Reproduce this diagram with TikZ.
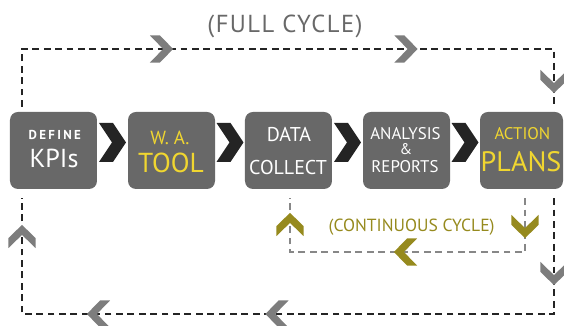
\documentclass[tikz,border=0pt]{standalone}
\usepackage{fontspec}
\setmainfont{PT Sans}
\newfontfamily\widefont[LetterSpace=18]{PT Sans}
\newfontfamily\loosefont[LetterSpace=6]{PT Sans}
\usetikzlibrary{calc}

\definecolor{boxgray}{RGB}{104,104,104}
\definecolor{tagyellow}{RGB}{240,214,48}
\definecolor{stepblack}{RGB}{36,36,36}
\definecolor{loopgray}{RGB}{125,125,125}
\definecolor{loopolive}{RGB}{150,138,30}
\definecolor{dashgray}{RGB}{135,135,135}

\newcommand{\fsz}[1]{\fontsize{#1}{#1}\selectfont}

\begin{document}
\begin{tikzpicture}[
    stagebox/.style={fill=boxgray, rounded corners=0.2cm, minimum width=2.175cm,
                     minimum height=1.925cm, inner sep=0pt},
    whitetext/.style={text=white, anchor=base, inner sep=0pt},
    yellowtext/.style={text=tagyellow, anchor=base, inner sep=0pt},
    fullline/.style={draw=stepblack, line width=1.4pt, dash pattern=on 0.17cm off 0.115cm},
    shortline/.style={draw=dashgray, line width=1.1pt, dash pattern=on 0.17cm off 0.115cm},
    stepchev/.pic={\fill[stepblack] (-0.3375,0.4875) -- (0.0125,0.4875) -- (0.3375,0)
                   -- (0.0125,-0.4875) -- (-0.3375,-0.4875) -- (-0.0125,0) -- cycle;},
    loopchev/.pic={\fill (-0.29,0.34) -- (-0.04,0.34) -- (0.29,0)
                   -- (-0.04,-0.34) -- (-0.29,-0.34) -- (0.04,0) -- cycle;},
  ]
  \useasboundingbox (0,0) rectangle (14.1,8.15);

  % Drawing the five stage boxes
  \node[stagebox] (kpis) at (1.3375,4.3875) {};
  \node[stagebox] (tool) at (4.2875,4.3875) {};
  \node[stagebox] (collect) at (7.2125,4.3875) {};
  \node[stagebox] (reports) at (10.1625,4.3875) {};
  \node[stagebox, minimum width=2.075cm] (plans) at (13.0375,4.3875) {};

  % Stage texts
  \node[whitetext, font=\widefont\bfseries\fsz{9.2}] (kpisA) at (1.37,4.65) {DEFINE};
  \node[whitetext, font=\fsz{18.5}] (kpisB) at (1.35,3.95) {KPIs};
  \node[yellowtext, font=\fsz{13.5}] (toolA) at (4.25,4.525) {W. A.};
  \node[yellowtext, font=\fsz{19.5}] (toolB) at (4.275,3.825) {TOOL};
  \node[whitetext, font=\fsz{14.2}] (collectA) at (7.225,4.6) {DATA};
  \node[whitetext, font=\fsz{14.2}] (collectB) at (7.2,3.775) {COLLECT};
  \node[whitetext, font=\fsz{12}] (reportsA) at (10.1375,4.67) {ANALYSIS};
  \node[whitetext, font=\fsz{11}] (reportsB) at (10.15,4.29) {\&};
  \node[whitetext, font=\fsz{12}] (reportsC) at (10.125,3.83) {REPORTS};
  \node[yellowtext, font=\fsz{12}] (plansA) at (13.06,4.65) {ACTION};
  \node[yellowtext, font=\fsz{20}] (plansB) at (13.025,3.86) {PLANS};

  % Black steps between the boxes
  \foreach \a/\b in {kpis/tool, tool/collect, collect/reports, reports/plans}
    \pic at ($(\a.east)!0.5!(\b.west)+(0,0.2)$) {stepchev};

  % Full cycle, top and bottom halves
  \coordinate (fullA) at ([shift={(0.3,0.125)}]kpis.north west);
  \coordinate (fullB) at ([shift={(-0.225,0.125)}]plans.north east);
  \coordinate (fullC) at ([shift={(-0.225,-0.225)}]plans.south east);
  \coordinate (fullD) at ([shift={(0.3,-0.225)}]kpis.south west);
  \coordinate (fulltop) at (0,6.925);
  \coordinate (fullbottom) at (0,0.3);
  \draw[fullline] (fullA) -- (fullA |- fulltop) -- (fullB |- fulltop) -- (fullB);
  \draw[fullline] (fullC) -- (fullC |- fullbottom) -- (fullD |- fullbottom) -- (fullD);

  % Continuous cycle, plans back to collect
  \coordinate (loopA) at ([shift={(0.0875,-0.225)}]plans.south);
  \coordinate (loopB) at ([shift={(0.0375,-0.225)}]collect.south);
  \coordinate (looplow) at (0,1.85);
  \draw[shortline] (loopA) -- (loopA |- looplow) -- (loopB |- looplow) -- (loopB);

  % Gray marks on the full cycle
  \pic[loopgray] at (4.0375,6.925) {loopchev};
  \pic[loopgray] at (10.15,6.925) {loopchev};
  \pic[loopgray, rotate=-90] at (13.85,6.1125) {loopchev};
  \pic[loopgray, rotate=-90] at (13.85,1.3125) {loopchev};
  \pic[loopgray, rotate=180] at (6.925,0.3) {loopchev};
  \pic[loopgray, rotate=180] at (2.4625,0.3) {loopchev};
  \pic[loopgray, rotate=90] at (0.55,2.2375) {loopchev};

  % Olive marks on the continuous cycle
  \pic[loopolive, rotate=90] at (7.25,2.5375) {loopchev};
  \pic[loopolive, rotate=-90] at (13.125,2.4875) {loopchev};
  \pic[loopolive, rotate=180] at (10.1375,1.85) {loopchev};

  % Cycle labels
  \node[anchor=base, inner sep=0pt, text=boxgray, font=\loosefont\fsz{17.5}] (fullname) at (7.125,7.325) {(FULL CYCLE)};
  \node[anchor=base, inner sep=0pt, text=loopolive, font=\fsz{12.5}] (loopname) at (10.29,2.35) {(CONTINUOUS CYCLE)};
\end{tikzpicture}
\end{document}
